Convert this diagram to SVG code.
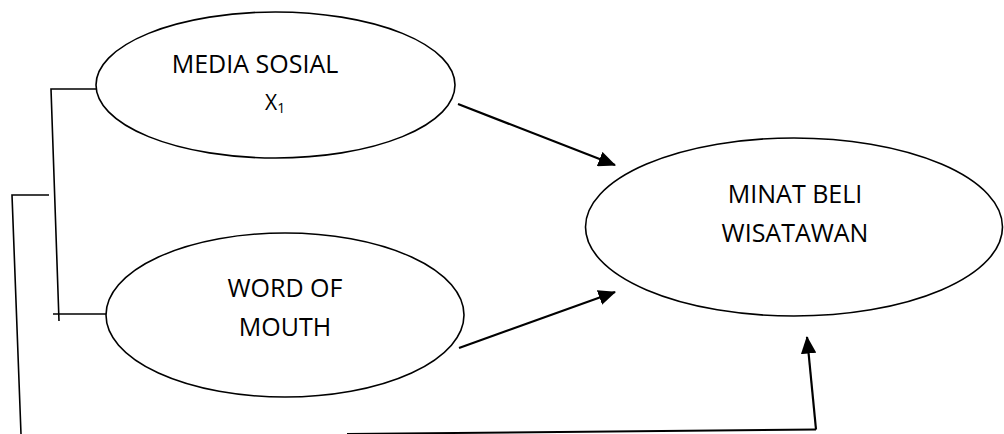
<svg xmlns="http://www.w3.org/2000/svg" width="1004" height="434" viewBox="0 0 1004 434">
<style>
.node ellipse{fill:#fff;stroke:#000;stroke-width:1.6}
.lbl{font-family:"Open Sans","Liberation Sans",sans-serif;font-size:25px;fill:#000;text-anchor:middle}
.ln{stroke:#000;stroke-width:1.6;fill:none}
.arr{stroke:#000;stroke-width:2.2;fill:none;marker-end:url(#ah)}
</style>
<defs>
<marker id="ah" markerWidth="8" markerHeight="7" refX="7.5" refY="3.5" orient="auto" markerUnits="strokeWidth">
<path d="M0,0 L8,3.5 L0,7 Z" fill="#000"/>
</marker>
</defs>
<rect width="1004" height="434" fill="#fff"/>
<g id="connectors">
<polyline class="ln" points="96,89 51,89 59,321"/>
<line class="ln" x1="53" y1="314" x2="111" y2="314"/>
<polyline class="ln" points="49,195 12,195 21,434"/>
<polyline class="ln" points="347,434 816,429.5" style="stroke-width:2"/>
<line class="arr" x1="458" y1="104" x2="615" y2="165"/>
<line class="arr" x1="459" y1="348" x2="615" y2="292"/>
<line class="arr" x1="816" y1="429.5" x2="807" y2="337"/>
</g>
<g id="media-sosial" class="node">
<ellipse cx="275.5" cy="85" rx="179.5" ry="73"/>
<text class="lbl" x="255" y="73">MEDIA SOSIAL</text>
<text x="265" y="110" style="font-family:'Open Sans','Liberation Sans',sans-serif;font-size:21px;fill:#000">X<tspan font-size="14" dy="3">1</tspan></text>
</g>
<g id="word-of-mouth" class="node">
<ellipse cx="285" cy="315" rx="179" ry="82"/>
<text class="lbl" x="285" y="297">WORD OF</text>
<text class="lbl" x="285" y="336">MOUTH</text>
</g>
<g id="minat-beli" class="node">
<ellipse cx="794" cy="227" rx="208.5" ry="89"/>
<text class="lbl" x="795" y="203">MINAT BELI</text>
<text class="lbl" x="795" y="242">WISATAWAN</text>
</g>
</svg>
